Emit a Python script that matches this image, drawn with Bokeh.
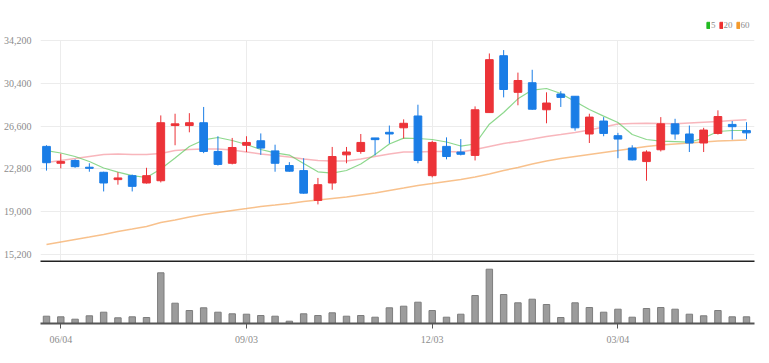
from bokeh.plotting import figure
from bokeh.models import (ColumnDataSource, Range1d, FixedTicker, NumeralTickFormatter,
                          Legend, LegendItem, Grid)
from bokeh.layouts import column
from bokeh.embed import file_html
from bokeh.resources import INLINE

# ---- data (weekly candles) ----
opens = [24800, 23300, 23550, 22950, 22500, 21850, 22200, 21550, 21750, 26650,
         26650, 26900, 24350, 23300, 24900, 25300, 24400, 23100, 22650, 20000,
         21550, 24050, 24350, 25550, 26050, 26450, 27500, 22200, 24800, 24300,
         24000, 27800, 32850, 29600, 30450, 28050, 29450, 29250, 25900, 27050,
         25750, 24650, 23450, 24500, 26800, 25900, 25100, 25950, 26750, 26200]
highs = [24900, 24150, 23650, 23300, 22550, 22500, 22300, 22900, 27550, 27700,
         27750, 28300, 25700, 25550, 25700, 25950, 24950, 23400, 23750, 22000,
         24750, 24750, 25900, 25550, 26650, 27200, 28500, 25300, 25600, 25450,
         28350, 33050, 33350, 31350, 31600, 29600, 29700, 29250, 27700, 27400,
         26000, 24900, 24450, 27400, 27250, 26650, 26450, 28000, 27050, 26950]
lows = [22650, 22850, 22900, 22550, 20800, 21400, 20800, 21500, 21600, 24900,
        26050, 24200, 23100, 23200, 24300, 24050, 22550, 22550, 20600, 19650,
        20950, 23300, 24150, 24000, 25050, 25500, 23300, 22050, 23650, 24000,
        23550, 27800, 29150, 28450, 28050, 26850, 28300, 26200, 25100, 25700,
        23750, 23550, 21750, 24350, 25400, 24300, 24300, 25850, 25400, 25450]
closes = [23350, 23450, 23000, 22850, 21550, 22000, 21250, 22200, 26900, 26800,
          26900, 24350, 23200, 24700, 25150, 24650, 23300, 22600, 20650, 21400,
          23900, 24300, 25150, 25400, 25900, 26850, 23550, 25150, 23900, 24100,
          28050, 32500, 29850, 30650, 28100, 28650, 29150, 26450, 27400, 25950,
          25450, 23600, 24300, 26800, 25900, 25100, 26250, 27450, 26550, 26000]
ma5 = [24430, 24210, 23900, 23460, 22880, 22520, 22210, 22040, 22790, 23770,
       24790, 25370, 25590, 25320, 24970, 24520, 24230, 24030, 23280, 22540,
       22420, 22660, 23230, 24080, 25010, 25530, 25500, 25410, 25190, 24830,
       25010, 26770, 27810, 29020, 29800, 29940, 29490, 28780, 28070, 27490,
       26920, 25850, 25410, 25260, 25230, 25170, 25540, 26120, 26210, 26210]
ma20 = [23370, 23550, 23720, 23900, 24080, 24120, 24080, 24080, 24170, 24430,
        24520, 24570, 24570, 24480, 24300, 24120, 23990, 23860, 23680, 23550,
        23500, 23500, 23680, 23900, 24120, 24300, 24300, 24340, 24340, 24300,
        24520, 24790, 25060, 25230, 25450, 25680, 25850, 26030, 26250, 26520,
        26790, 26830, 26860, 26830, 26800, 26880, 26950, 27010, 27100, 27160]
ma60 = [16090, 16310, 16530, 16750, 16980, 17240, 17460, 17690, 18040, 18260,
        18530, 18750, 18930, 19110, 19280, 19460, 19590, 19730, 19900, 20040,
        20170, 20300, 20480, 20660, 20880, 21100, 21330, 21500, 21680, 21860,
        22080, 22350, 22660, 22920, 23230, 23500, 23720, 23900, 24080, 24260,
        24430, 24610, 24790, 24920, 25010, 25100, 25190, 25280, 25320, 25370]
volumes = [73000, 67000, 43000, 77000, 113000, 57000, 67000, 60000, 507000, 203000,
           130000, 157000, 113000, 97000, 93000, 80000, 73000, 23000, 97000, 80000,
           107000, 73000, 80000, 63000, 157000, 173000, 213000, 130000, 63000, 93000,
           280000, 543000, 290000, 207000, 243000, 190000, 60000, 207000, 160000, 113000,
           143000, 63000, 150000, 160000, 143000, 93000, 77000, 130000, 67000, 67000]
tick_pos = [1, 14, 27, 40]
tick_labels = ["06/04", "09/03", "12/03", "03/04"]
price_ticks = [15200, 19000, 22800, 26600, 30400, 34200]
ma_names = ["5", "20", "60"]

UP = "#ec3338"
DOWN = "#1a7de6"
FONT = "Liberation Sans Narrow"
LABEL_COLOR = "#8c8c8c"

n = len(opens)
xs = list(range(n))
colors = [UP if c >= o else DOWN for o, c in zip(opens, closes)]
src = ColumnDataSource(dict(
    x=xs, o=opens, h=highs, l=lows, c=closes,
    top=[max(o, c) for o, c in zip(opens, closes)],
    bot=[min(o, c) for o, c in zip(opens, closes)],
    color=colors, ma5=ma5, ma20=ma20, ma60=ma60, vol=volumes))

x_range = Range1d(-0.42, n - 1 + 0.56)
y_lo, y_grid_top, y_hi = 14580, 34200, 36420

# ---- price panel ----
p = figure(width=761, height=262, x_range=x_range, y_range=Range1d(y_lo, y_hi),
           output_backend="svg", toolbar_location=None,
           min_border_left=39, min_border_right=7, min_border_top=15, min_border_bottom=1)
p.outline_line_color = None
p.background_fill_color = "white"

p.line("x", "ma60", source=src, line_color="#f5a65b", line_alpha=0.7, line_width=1.5)
p.line("x", "ma20", source=src, line_color="#f27a85", line_alpha=0.55, line_width=1.5)
p.line("x", "ma5", source=src, line_color="#5cc85c", line_alpha=0.7, line_width=1.2)

p.segment("x", "h", "x", "l", source=src, line_color="color", line_width=1)
p.vbar(x="x", top="top", bottom="bot", width=0.54, source=src,
       fill_color="color", line_color="color", line_width=1)

p.yaxis.ticker = FixedTicker(ticks=price_ticks)
p.yaxis.formatter = NumeralTickFormatter(format="0,0")
p.yaxis.axis_line_color = None
p.yaxis.major_tick_line_color = None
p.yaxis.minor_tick_line_color = None
p.yaxis.major_label_text_font = FONT
p.yaxis.major_label_text_font_size = "10px"
p.yaxis.major_label_text_color = LABEL_COLOR
p.yaxis.major_label_standoff = 3

p.xaxis.ticker = FixedTicker(ticks=[])
p.xaxis.axis_line_color = "#222222"
p.xaxis.axis_line_width = 2
p.xaxis.major_tick_line_color = None
p.xaxis.minor_tick_line_color = None
p.xaxis.major_label_text_font_size = "0px"
p.xaxis.major_label_standoff = 0
p.xaxis.major_tick_out = 0

p.xgrid.ticker = FixedTicker(ticks=tick_pos)
if "cross_bounds" in Grid.properties():
    p.xgrid.cross_bounds = (y_lo, y_grid_top)
p.xgrid.grid_line_color = "#ececec"
p.ygrid.grid_line_color = "#ececec"

# legend (colour keys only)
leg_colors = ["#22bb22", "#ee3030", "#f39a2c"]
items = []
for name, col in zip(ma_names, leg_colors):
    ks = ColumnDataSource(dict(x=[float("nan")], top=[float("nan")]))
    r = p.vbar(x="x", top="top", width=0.5, source=ks, fill_color=col, line_color=col)
    items.append(LegendItem(label=name, renderers=[r]))
legend = Legend(items=items, orientation="horizontal", location=(666, 231),
                glyph_width=4, glyph_height=8, label_height=8, label_width=4,
                label_text_font=FONT, label_text_font_size="9px",
                label_text_color=LABEL_COLOR, label_standoff=1, spacing=3,
                padding=0, margin=0, border_line_color=None,
                background_fill_alpha=0)
p.add_layout(legend)

# ---- volume panel ----
v = figure(width=761, height=93, x_range=x_range, y_range=Range1d(0, 570000),
           output_backend="svg", toolbar_location=None,
           min_border_left=39, min_border_right=7, min_border_top=4, min_border_bottom=32)
v.outline_line_color = None
v.vbar(x="x", top="vol", bottom=0, width=0.45, source=src,
       fill_color="#9c9c9c", line_color="#7d7d7d", line_width=1)
v.yaxis.visible = False
v.xgrid.visible = False
v.ygrid.visible = False
v.xaxis.ticker = FixedTicker(ticks=tick_pos)
v.xaxis.major_label_overrides = {t: s for t, s in zip(tick_pos, tick_labels)}
v.xaxis.axis_line_color = "#555555"
v.xaxis.axis_line_width = 2
v.xaxis.major_tick_line_color = "#555555"
v.xaxis.major_tick_out = 5
v.xaxis.major_tick_in = 0
v.xaxis.minor_tick_line_color = None
v.xaxis.major_label_text_font = FONT
v.xaxis.major_label_text_font_size = "10px"
v.xaxis.major_label_text_color = LABEL_COLOR
v.xaxis.major_label_standoff = 5

layout = column(p, v, spacing=0)
open("out.html", "w").write(file_html(layout, INLINE))
